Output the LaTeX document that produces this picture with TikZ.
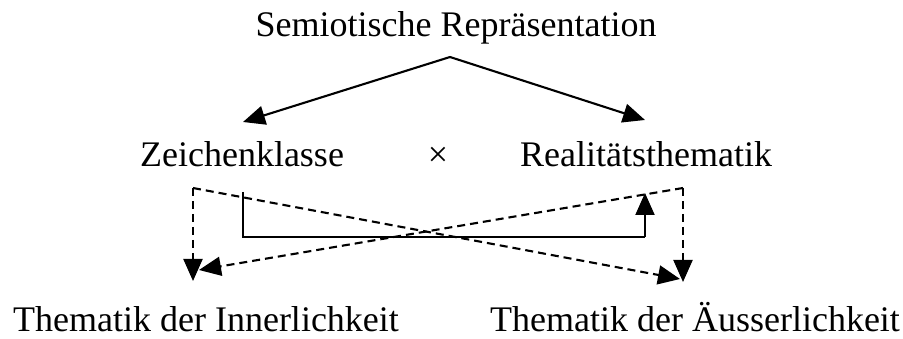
\documentclass[tikz,border=0pt]{standalone}
\usepackage{fontspec}
\setmainfont{Liberation Serif}
\usetikzlibrary{arrows.meta}
\begin{document}
\begin{tikzpicture}[x=1pt,y=-1pt,
  label text/.style={inner sep=0pt,anchor=base,text depth=0pt,font=\fontsize{36}{40}\selectfont},
  link/.style={line width=2.1pt,-{Triangle[length=22pt,width=19pt]}},
  dlink/.style={link,dash pattern=on 8pt off 5pt},
  plain link/.style={line width=2.1pt}]
\useasboundingbox (0,0) rectangle (903,339);

% text labels
\node[label text] (sr)  at (456,37)  {Semiotische Repräsentation};
\node[label text] (zk)  at (242,167) {Zeichenklasse};
\node[label text] (x)   at (438,167) {×};
\node[label text] (rt)  at (646,167) {Realitätsthematik};
\node[label text] (inn) at (206,331) {Thematik der Innerlichkeit};
\node[label text] (aus) at (695,331) {Thematik der Äusserlichkeit};

% anchor points of the connectors
\coordinate (apex)   at (450,57);
\coordinate (zkin)   at (243,122);
\coordinate (rtin)   at (645,120);
\coordinate (lc)     at (193,188);
\coordinate (rc)     at (683,188);
\coordinate (innv)   at (193,281);
\coordinate (innd)   at (199,270);
\coordinate (ausv)   at (683,282);
\coordinate (ausd)   at (680,279);
\coordinate (s0)     at (243,192);
\coordinate (s1)     at (243,237);
\coordinate (s2)     at (645,237);
\coordinate (s3)     at (645,193);

% representation splits into both classes
\draw[link] (apex) -- (zkin);
\draw[link] (apex) -- (rtin);

% dashed thematisations
\draw[dlink] (lc) -- (innv);
\draw[dlink] (lc) -- (ausd);
\draw[dlink] (rc) -- (ausv);
\draw[dlink] (rc) -- (innd);

% dual transformation
\draw[plain link] (s0) -- (s1) -- (s2);
\draw[link] (s2) -- (s3);
\end{tikzpicture}
\end{document}
